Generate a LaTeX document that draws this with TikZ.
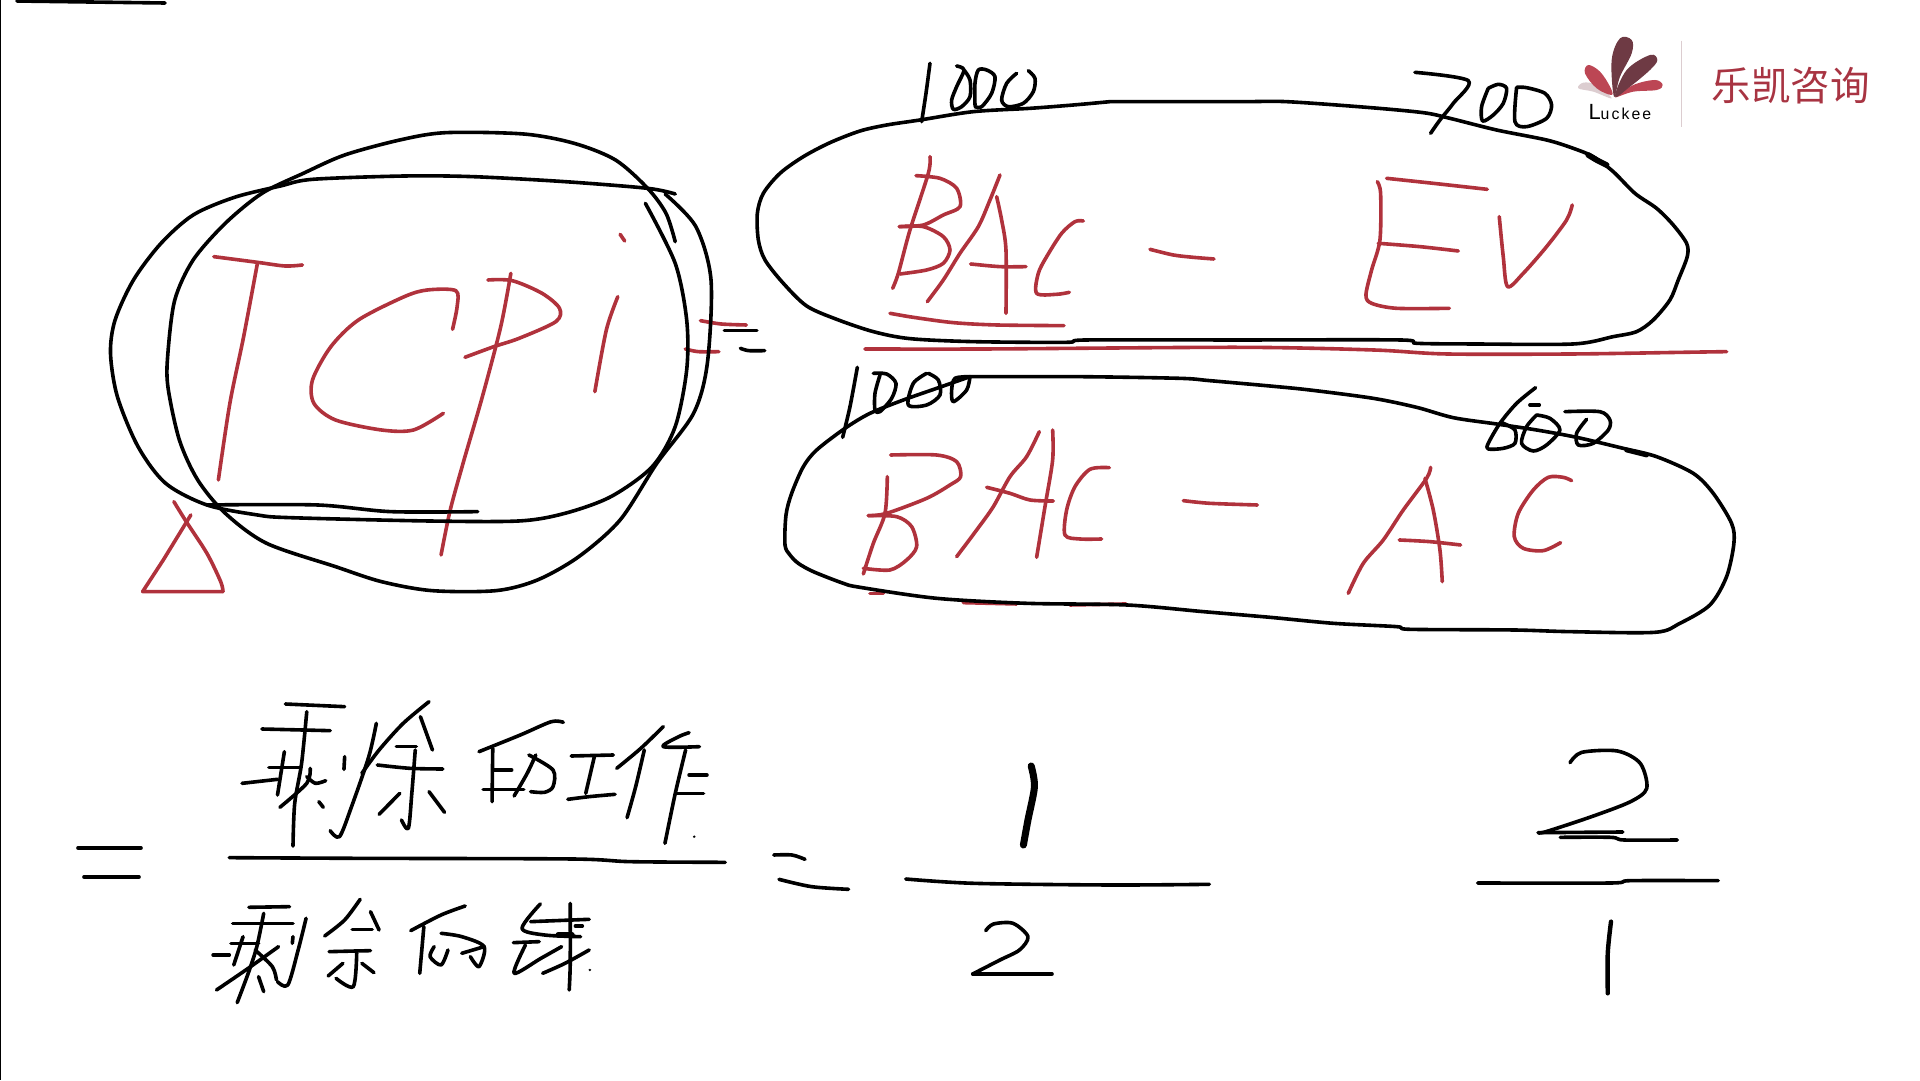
\documentclass[tikz,border=0pt]{standalone}
\usepackage{fontspec}
\setmainfont{Liberation Sans}
\newfontfamily\cjkfont{Noto Sans CJK SC}
\definecolor{inkred}{HTML}{B0323C}
\definecolor{logored}{HTML}{BC4654}
\definecolor{logotext}{HTML}{A83442}
\definecolor{logodark}{HTML}{6E3A44}
\definecolor{logopale}{HTML}{DCCDD0}
\tikzset{%
  ink/.style={black,line width=4.1pt,line cap=round,line join=round,smooth,tension=0.5},
  redink/.style={inkred,line width=4.1pt,line cap=round,line join=round,smooth,tension=0.5},
  petal/.style={smooth cycle,tension=0.6,draw=none}%
}
\newcommand{\inkstroke}[2][ink]{\draw[#1] plot coordinates {#2};}
\begin{document}
\begin{tikzpicture}[x=0.04cm,y=-0.04cm]
\path[use as bounding box,fill=white] (0,0) rectangle (1920,1080);

% page edge and top stroke
\draw[black,line width=1.5pt] (0.5,0) -- (0.5,1080);
\inkstroke{(17,1) (90,2) (165,3)}

% TCPI with its circles
\begin{scope}[shift={(60,120)},xscale=0.4591,yscale=0.3333]
\inkstroke[redink]{(335,410) (430,427) (490,438) (528,435)}
\inkstroke[redink]{(430,430) (400,650) (370,850) (345,1080)}
\inkstroke[redink]{(855,628) (865,560) (862,512) (800,510) (750,530) (650,600) (590,680) (550,780) (553,850) (600,900) (700,930) (770,930) (835,880)}
\inkstroke[redink]{(982,460) (960,620) (920,830) (880,1020) (850,1170) (830,1305)}
\inkstroke[redink]{(932,480) (985,482) (1050,520) (1088,565) (1080,605) (1000,655) (945,680) (882,712)}
\inkstroke[redink]{(1220,343) (1230,363)}
\inkstroke[redink]{(1215,530) (1190,630) (1165,815)}
\inkstroke[redink]{(248,1145) (275,1205) (320,1300) (350,1385) (355,1415)}
\draw[redink,smooth=false] (355,1415) -- (180,1415) -- (225,1320) -- (285,1185);
\inkstroke[redink]{(1395,602) (1440,612) (1495,615)}
\inkstroke[redink]{(1362,687) (1390,695) (1435,695)}
\inkstroke{(1447,632) (1518,632)}
\inkstroke{(1482,685) (1500,692) (1535,692)}
\inkstroke{(1340,222) (1280,205) (1100,185) (900,170) (750,168) (550,178) (480,198) (380,232) (290,285) (220,370) (160,480) (120,600) (110,700) (125,830) (170,980) (230,1090) (320,1155) (430,1185) (500,1193) (800,1203) (1000,1203) (1100,1180) (1200,1130) (1290,1040) (1340,920) (1365,750) (1365,600) (1340,430) (1275,250)}
\inkstroke{(1340,365) (1320,280) (1280,205) (1210,120) (1120,70) (1010,42) (840,38) (740,60) (620,105) (530,160) (440,220) (360,310) (290,420) (250,540) (235,700) (235,800) (260,960) (300,1080) (360,1180) (450,1270) (600,1340) (700,1385) (810,1412) (950,1412) (1040,1380) (1130,1310) (1220,1200) (1300,1030) (1380,880) (1410,730) (1418,480) (1385,320) (1318,222)}
\inkstroke{(320,1155) (560,1155) (720,1175) (910,1175)}
\end{scope}

% upper bubble, BAC - EV
\begin{scope}[shift={(740,50)},scale=0.3333]
\inkstroke[redink]{(570,320) (565,370) (510,540) (475,670) (458,715)}
\inkstroke[redink]{(528,377) (600,385) (650,415) (660,470) (610,495) (550,525) (478,530)}
\inkstroke[redink]{(478,530) (550,530) (610,560) (630,600) (610,640) (560,660) (480,672)}
\inkstroke[redink]{(780,375) (750,450) (715,530) (660,610) (610,690) (562,755)}
\inkstroke[redink]{(770,440) (785,510) (798,600) (798,790)}
\inkstroke[redink]{(692,642) (780,650) (858,650)}
\inkstroke[redink]{(1030,513) (1005,515) (965,550) (920,620) (895,670) (890,730) (950,733) (988,727)}
\inkstroke[redink]{(450,790) (520,802) (640,818) (770,825) (972,827)}
\inkstroke[redink]{(1230,598) (1300,615) (1360,622) (1422,627)}
\inkstroke[redink]{(1912,395) (1922,430) (1920,570) (1895,660) (1878,735) (1895,760) (1970,775) (2128,775)}
\inkstroke[redink]{(1940,385) (2080,400) (2242,418)}
\inkstroke[redink]{(1915,580) (2040,590) (2155,603)}
\inkstroke[redink]{(2278,500) (2290,620) (2303,710) (2350,670) (2420,590) (2480,510) (2497,465)}
\inkstroke[redink]{(375,897) (740,897) (1500,892) (1900,900) (2120,912) (2500,912) (2830,907) (2960,905)}
\inkstroke{(1110,155) (1000,165) (870,175) (700,185) (540,210) (440,225) (360,243) (270,278) (190,320) (120,370) (70,430) (52,490) (55,570) (75,630) (130,700) (200,768) (290,808) (400,845) (510,866) (700,875) (980,877) (1040,870) (1500,870) (1980,870) (2030,880) (2200,882) (2500,882) (2620,860) (2690,845) (2740,810) (2790,750) (2815,690) (2842,620) (2840,580) (2800,525) (2750,475) (2685,430) (2620,365) (2560,320) (2500,295) (2420,270) (2270,240) (2130,205) (2050,188) (1880,172) (1640,155) (1500,155) (1110,155)}
\inkstroke[ink,line width=6.5pt]{(2545,315) (2570,330) (2600,345)}
% 1000
\inkstroke{(570,40) (558,130) (545,215)}
\inkstroke{(650,48) (672,60) (650,110) (635,150) (640,178) (665,170) (690,140) (690,90) (672,60)}
\inkstroke{(705,170) (725,170) (755,130) (765,80) (740,60) (715,60) (705,100) (705,165)}
\inkstroke{(830,70) (800,100) (785,150) (805,170) (850,160) (880,125) (885,85) (865,62)}
% 700
\inkstroke{(2025,67) (2185,92) (2140,160) (2100,210) (2072,250)}
\inkstroke{(2245,115) (2225,170) (2228,213) (2260,195) (2290,160) (2300,115) (2275,103) (2245,115)}
\inkstroke{(2330,112) (2325,215) (2360,230) (2420,205) (2435,165) (2415,130) (2360,113) (2330,112)}
\end{scope}

% lower bubble, BAC - AC
\begin{scope}[shift={(770,350)},scale=0.3333]
\inkstroke[redink]{(300,730) (340,730)}
\inkstroke[redink]{(580,758) (740,762)}
\inkstroke[redink]{(900,765) (1068,762)}
\inkstroke[redink]{(352,380) (345,490) (310,580) (280,672)}
\inkstroke[redink]{(362,315) (500,315) (560,335) (572,380) (540,405) (470,445) (350,490) (295,497)}
\inkstroke[redink]{(295,497) (380,500) (425,530) (440,590) (410,630) (360,660) (280,655)}
\inkstroke[redink]{(808,245) (770,320) (720,380) (670,470) (620,540) (560,620)}
\inkstroke[redink]{(848,240) (848,330) (825,470) (800,622)}
\inkstroke[redink]{(650,412) (720,430) (780,450) (850,453)}
\inkstroke[redink]{(1018,353) (960,358) (915,410) (890,480) (885,555) (930,567) (995,567)}
\inkstroke[redink]{(1240,452) (1320,460) (1462,465)}
\inkstroke[redink]{(1982,352) (1970,385) (1900,480) (1840,570) (1780,640) (1735,730)}
\inkstroke[redink]{(1965,385) (1990,480) (2010,600) (2017,695)}
\inkstroke[redink]{(1888,570) (1980,575) (2072,585)}
\inkstroke[redink]{(2405,392) (2380,382) (2335,382) (2290,420) (2245,490) (2233,560) (2260,595) (2320,602) (2372,578)}
\inkstroke{(600,80) (930,80) (1230,85) (1320,92) (1500,108) (1620,120) (1810,145) (1940,172) (2050,203) (2180,222) (2300,240) (2420,262) (2560,295) (2660,320) (2770,370) (2830,430) (2885,520) (2892,580) (2870,680) (2820,765) (2730,820) (2655,847) (2400,845) (2230,840) (1920,838) (1880,830) (1690,820) (1500,802) (1300,785) (1070,765) (770,760) (500,745) (270,712) (220,700) (130,665) (85,640) (60,615) (45,585) (48,495) (65,430) (100,350) (140,300) (225,235) (300,190) (400,150) (500,115) (600,80)}
\inkstroke[ink,line width=5.5pt]{(2570,300) (2630,315)}
% 1000 struck through
\inkstroke{(262,52) (240,170) (218,262)}
\inkstroke{(310,70) (350,72) (378,100) (365,145) (330,185) (315,180) (315,130) (330,75)}
\inkstroke{(470,70) (430,100) (415,165) (470,165) (510,135) (505,90) (475,70)}
\inkstroke{(600,80) (590,120) (550,155) (545,120) (555,85) (600,80)}
% 600 struck through
\inkstroke{(2297,113) (2240,160) (2190,220) (2155,280) (2155,297) (2200,295) (2235,280) (2235,240) (2200,220)}
\inkstroke{(2280,165) (2308,165)}
\inkstroke{(2300,195) (2270,230) (2255,280) (2290,303) (2330,285) (2370,240) (2340,205) (2300,195)}
\inkstroke{(2385,185) (2490,185) (2520,210) (2515,240) (2470,280) (2425,285) (2420,250) (2450,208)}
\end{scope}

% second line: words
\inkstroke{(78,848) (141,848)}
\inkstroke{(84,877) (139,877)}
\begin{scope}[shift={(200,680)},xscale=0.3444,yscale=0.3333]
\inkstroke{(248,72) (420,80)}
\inkstroke{(180,147) (378,152)}
\inkstroke{(310,95) (295,250) (275,370) (270,498)}
\inkstroke{(200,262) (290,262)}
\inkstroke{(122,310) (225,298)}
\inkstroke{(245,215) (225,345)}
\inkstroke{(320,265) (310,310) (232,382)}
\inkstroke{(310,290) (335,310) (365,302)}
\inkstroke{(345,365) (358,382)}
\inkstroke{(420,230) (418,268)}
\inkstroke{(512,130) (490,230) (440,380) (405,470) (378,452)}
\inkstroke{(665,65) (590,130) (520,210) (470,280)}
\inkstroke{(640,110) (675,210)}
\inkstroke{(570,200) (628,200)}
\inkstroke{(515,255) (610,265) (705,267)}
\inkstroke{(625,210) (615,340) (605,445) (585,420)}
\inkstroke{(580,340) (520,403)}
\inkstroke{(665,335) (710,397)}
\inkstroke{(1055,127) (1020,125) (930,165) (810,215)}
\inkstroke{(850,205) (848,365)}
\inkstroke{(855,270) (905,270)}
\inkstroke{(822,328) (940,328)}
\inkstroke{(955,225) (1025,270) (1025,320) (1000,337) (960,335)}
\inkstroke{(975,225) (950,280) (912,348)}
\inkstroke{(1078,228) (1200,225)}
\inkstroke{(1145,230) (1120,340)}
\inkstroke{(1068,358) (1130,350) (1205,343)}
\inkstroke{(1345,140) (1280,205) (1210,265)}
\inkstroke{(1290,210) (1265,320) (1240,413)}
\inkstroke{(1420,158) (1390,170) (1345,200) (1450,200)}
\inkstroke{(1410,210) (1380,340) (1350,490)}
\inkstroke{(1420,285) (1472,285)}
\inkstroke{(1385,340) (1462,340)}
\fill (1435,470) circle (4);
\inkstroke{(85,533) (460,535) (1080,537) (1250,545) (1525,547)}
\inkstroke{(142,682) (260,680)}
\inkstroke{(95,730) (270,730)}
\inkstroke{(185,700) (165,800) (140,880) (108,968)}
\inkstroke{(38,825) (85,825)}
\inkstroke{(90,790) (170,790)}
\inkstroke{(125,770) (98,855)}
\inkstroke{(160,810) (210,860) (222,900)}
\inkstroke{(228,800) (140,865) (48,930)}
\inkstroke{(170,890) (185,935)}
\inkstroke{(270,770) (268,790)}
\inkstroke{(308,715) (285,810) (255,915) (225,905)}
\inkstroke{(465,658) (420,720) (362,768)}
\inkstroke{(495,695) (520,750)}
\inkstroke{(442,748) (500,748)}
\inkstroke{(375,815) (495,812)}
\inkstroke{(455,820) (445,920) (395,895)}
\inkstroke{(415,850) (372,888)}
\inkstroke{(470,850) (505,878)}
\inkstroke{(770,678) (700,705) (612,752)}
\inkstroke{(650,740) (638,880)}
\inkstroke{(680,800) (668,830) (700,855) (720,810)}
\inkstroke{(700,760) (760,770) (825,800) (810,860) (785,830)}
\inkstroke{(760,820) (825,800)}
\inkstroke{(988,672) (935,745) (1000,765) (1105,770)}
\inkstroke{(960,725) (1130,718)}
\inkstroke{(1075,670) (1075,850) (1072,930)}
\inkstroke{(1090,738) (1110,738)}
\inkstroke{(910,788) (985,785)}
\inkstroke{(945,795) (912,880) (990,835) (1050,800)}
\inkstroke{(995,880) (1060,850) (1130,810)}
\inkstroke[ink,line width=6.5pt]{(1040,765) (1080,765)}
\fill (1132,870) circle (4);
\end{scope}

% fractions
\begin{scope}[shift={(740,720)},xscale=0.65,yscale=0.3333]
\inkstroke{(52,405) (80,405) (100,418)}
\inkstroke{(60,478) (110,500) (167,508)}
\inkstroke{(255,477) (360,490) (570,495) (722,493)}
\inkstroke[ink,line width=8pt]{(448,138) (453,200) (443,300) (436,375)}
\inkstroke{(378,632) (390,612) (420,610) (443,650) (430,690) (400,720) (358,762)}
\draw[ink,smooth=false] (358,762) -- (480,762);
\inkstroke{(1277,128) (1295,97) (1350,93) (1385,130) (1395,205) (1370,245) (1310,290) (1240,335) (1228,338)}
\inkstroke{(1228,338) (1358,336)}
\inkstroke{(1262,352) (1340,352) (1360,360) (1442,360)}
\inkstroke{(1135,489) (1340,489) (1370,482) (1505,482)}
\inkstroke[ink,line width=5pt]{(1340,605) (1335,700) (1335,820)}
\end{scope}

% logo
\begin{scope}[shift={(1540,20)},scale=0.3333]
\fill[logopale] plot[petal] coordinates {(215,235) (160,215) (115,205) (130,188) (170,195)};
\fill[logored] plot[petal] coordinates {(215,225) (170,205) (135,160) (145,135) (180,155) (210,200)};
\fill[logored] plot[petal] coordinates {(225,232) (280,195) (345,180) (368,195) (350,210) (280,215)};
\fill[logodark] plot[petal] coordinates {(225,230) (260,150) (330,105) (352,120) (330,150) (270,200)};
\fill[logodark] plot[petal] coordinates {(222,230) (215,120) (240,55) (275,60) (275,100) (240,170)};
\draw[logopale,line width=1.5pt] (424,62) -- (424,322);
\node[anchor=base west,inner sep=0pt,text=black] (brand) at (145,298) {\fontsize{25pt}{25pt}\selectfont L\fontsize{18pt}{18pt}\selectfont\addfontfeature{LetterSpace=13}uckee};
\node[anchor=center,inner sep=0pt,text=logotext] (company) at (752,198) {\cjkfont\fontsize{45pt}{45pt}\selectfont 乐凯咨询};
\end{scope}
\end{tikzpicture}
\end{document}
